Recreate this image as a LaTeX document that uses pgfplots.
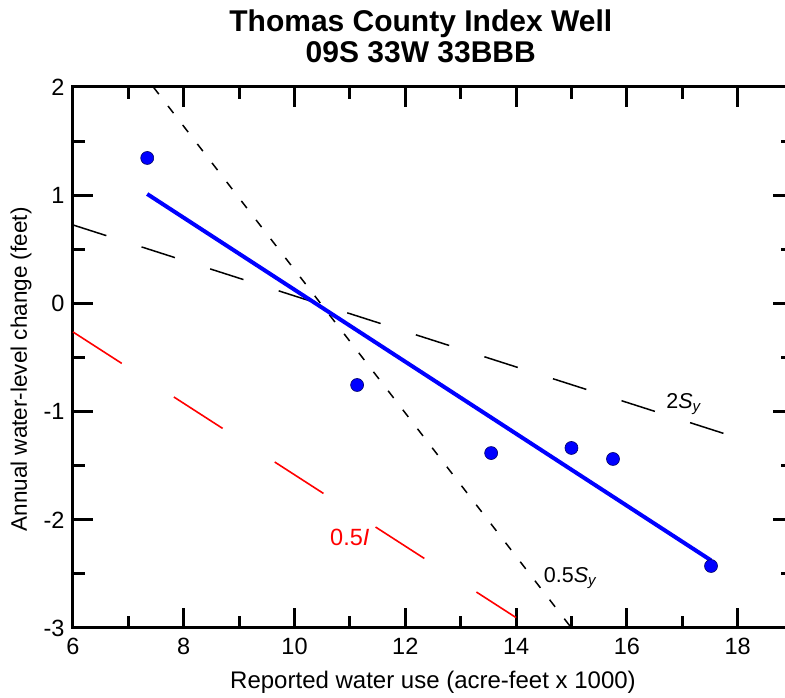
\documentclass[border=0pt]{standalone}
\usepackage{fontspec}
\setmainfont{Liberation Sans}
\usepackage{pgfplots}
\pgfplotsset{compat=1.18}
\begin{document}
\begin{tikzpicture}
\begin{axis}[
 scale only axis, width=720pt, height=541pt,
 xmin=6, xmax=19, ymin=-3, ymax=2,
 xtick={6,8,...,18}, ytick={-3,-2,...,2},
 minor x tick num=1, minor y tick num=1,
 tick align=inside,
 major tick length=20pt, minor tick length=12pt,
 tick style={black, line width=3pt},
 axis line style={line width=3pt},
 clip=false,
 /pgf/number format/assume math mode=true,
 ticklabel style={font=\fontsize{23.5}{27}\selectfont},
 xticklabel style={yshift=-7pt},
 yticklabel style={xshift=-5pt},
 xlabel={Reported water use (acre-feet x 1000)},
 ylabel={Annual water-level change (feet)},
 xlabel style={font=\fontsize{24}{28}\selectfont, at={(axis description cs:0.5,0)}, anchor=base, yshift=-61pt},
 ylabel style={font=\fontsize{22.5}{26}\selectfont, at={(axis description cs:-0.0639,0.478)}, anchor=base},
]
\addplot[red, line width=1.6pt, dash pattern=on 58pt off 62pt] coordinates {(6,-0.264) (14,-2.904)};
\addplot[black, line width=1.5pt, dash pattern=on 35pt off 37pt] coordinates {(6,0.725) (17.75,-1.202)};
\addplot[black, line width=1.5pt, dash pattern=on 9pt off 15pt] coordinates {(7.45,2) (15.0,-3)};
\addplot[blue, line width=4pt] coordinates {(7.34,1.011) (17.52,-2.375)};
\addplot[only marks, mark=*, mark size=6.5pt, mark options={fill=blue, draw=black!60!blue, line width=0.6pt}] coordinates {
 (7.34,1.344) (11.13,-0.754) (13.55,-1.383) (15.0,-1.336) (15.75,-1.438) (17.52,-2.427)};
\node[anchor=base west, font=\fontsize{21.5}{25}\selectfont] at (axis cs:16.65,-0.967) {2\textit{S}\textsubscript{\textit{y}}};
\node[anchor=base west, font=\fontsize{21.5}{25}\selectfont] at (axis cs:14.44,-2.58) {0.5\textit{S}\textsubscript{\textit{y}}};
\node[anchor=base west, text=red, font=\fontsize{23.5}{27}\selectfont] at (axis cs:10.58,-2.24) {0.5\textit{I}};
\node[anchor=base, font=\bfseries\fontsize{30}{34}\selectfont] at ([yshift=55pt]axis description cs:0.483,1) {Thomas County Index Well};
\node[anchor=base, font=\bfseries\fontsize{30}{34}\selectfont] at ([yshift=24pt]axis description cs:0.483,1) {09S 33W 33BBB};
\end{axis}
\pgfresetboundingbox
\path[use as bounding box] ([xshift=-73pt, yshift=-70pt]current axis.south west) rectangle ([xshift=-8pt, yshift=87pt]current axis.north east);
\end{tikzpicture}
\end{document}
